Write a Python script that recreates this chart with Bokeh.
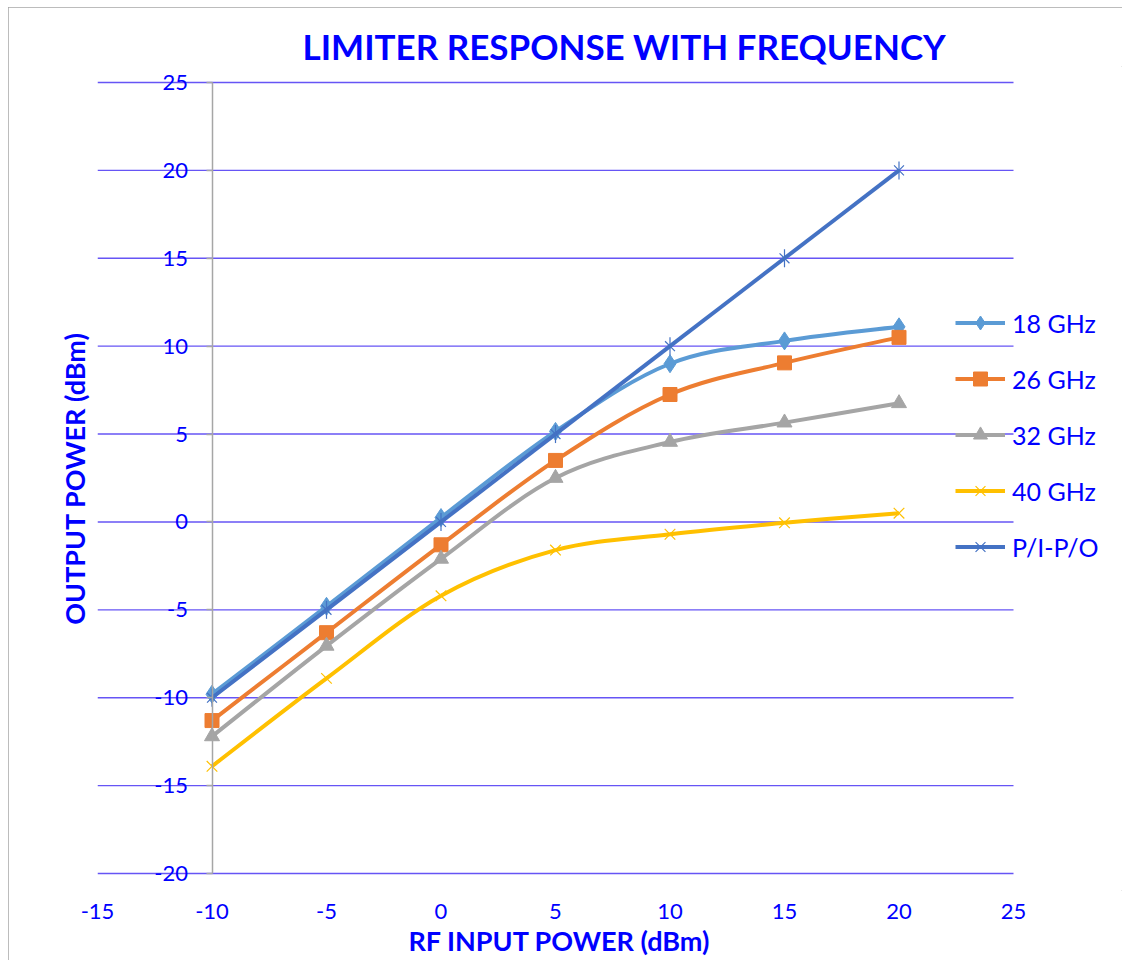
import numpy as np
from bokeh.plotting import figure
from bokeh.models import Range1d, FixedTicker, LinearAxis, Legend, LegendItem, Title
from bokeh.embed import file_html
from bokeh.resources import INLINE

# ---- data ----
x_vals = [-10, -5, 0, 5, 10, 15, 20]
ghz18 = [-9.8, -4.8, 0.25, 5.15, 9.0, 10.3, 11.1]
ghz26 = [-11.3, -6.3, -1.3, 3.5, 7.25, 9.05, 10.5]
ghz32 = [-12.2, -7.05, -2.1, 2.5, 4.55, 5.65, 6.75]
ghz40 = [-13.9, -8.9, -4.2, -1.6, -0.7, -0.05, 0.5]
pipo = [-10, -5, 0, 5, 10, 15, 20]
series_names = ["18 GHz", "26 GHz", "32 GHz", "40 GHz", "P/I-P/O"]
x_ticks = [-15, -10, -5, 0, 5, 10, 15, 20, 25]
y_ticks = [-20, -15, -10, -5, 0, 5, 10, 15, 20, 25]

BLUE = "#0000FF"
GRID = "#6655F5"
FONT = "Lato"

# ---- layout (pixels) ----
W, H = 1114, 953          # figure placed at page offset (8, 7)
FL, FT, FB = 89, 59, 883  # frame left / top / bottom in figure pixels
PX_X = 916.0 / 40.0       # pixels per x unit
PX_Y = 791.0 / 45.0       # pixels per y unit
TOP25 = 75                # figure pixel of y = 25
BOT20 = 866               # figure pixel of y = -20

x_lo = x_ticks[0]
x_hi = x_lo + (W - FL) / PX_X
y_hi = y_ticks[-1] + (TOP25 - FT) / PX_Y
y_lo = y_ticks[0] - (FB - BOT20) / PX_Y

p = figure(width=W, height=H, output_backend="svg", toolbar_location=None,
           x_range=Range1d(x_lo, x_hi), y_range=Range1d(y_lo, y_hi),
           min_border_left=FL, min_border_right=0, min_border_top=FT,
           min_border_bottom=H - FB)
p.outline_line_color = None
p.styles = {"margin-left": "8px", "margin-top": "7px",
            "outline": "1px solid #A6A6A6", "outline-offset": "-1px"}

# title
t = Title(text="LIMITER RESPONSE WITH FREQUENCY", align="left", offset=205, standoff=0,
          text_font=FONT, text_font_size="35px", text_font_style="bold", text_color=BLUE)
p.add_layout(t, "above")

# x axis
xa = p.xaxis[0]
xa.ticker = FixedTicker(ticks=x_ticks)
xa.major_label_overrides = {v: str(v) for v in x_ticks}
xa.axis_line_color = None
xa.major_tick_line_color = None
xa.minor_tick_line_color = None
xa.major_label_standoff = 7
xa.major_label_text_font = FONT
xa.major_label_text_font_size = "22px"
xa.major_label_text_color = BLUE

xtitle = Title(text="RF INPUT POWER (dBm)", align="left", offset=311, standoff=0,
               text_font=FONT, text_font_size="27px", text_font_style="bold", text_color=BLUE)
p.add_layout(xtitle, "below")

# y axis crossing at x = -10
ya = p.yaxis[0]
ya.ticker = FixedTicker(ticks=y_ticks)
ya.major_label_overrides = {v: str(v) for v in y_ticks}
ya.fixed_location = x_vals[0]
ya.bounds = (y_ticks[0], y_ticks[-1])
ya.axis_line_color = "#A6A6A6"
ya.axis_line_width = 1.5
ya.major_tick_line_color = "#A6A6A6"
ya.major_tick_line_width = 1.5
ya.major_tick_out = 6
ya.major_tick_in = 0
ya.minor_tick_line_color = None
ya.major_label_standoff = 18
ya.major_label_text_font = FONT
ya.major_label_text_font_size = "22px"
ya.major_label_text_color = BLUE

ylab = LinearAxis(ticker=FixedTicker(ticks=[]), axis_line_color=None,
                  major_tick_line_color=None, minor_tick_line_color=None,
                  major_label_text_font_size="0px",
                  axis_label="OUTPUT POWER (dBm)", axis_label_text_font=FONT,
                  axis_label_text_font_size="27px", axis_label_text_font_style="bold",
                  axis_label_text_color=BLUE, axis_label_standoff=7)
p.add_layout(ylab, "left")

# horizontal gridlines limited to the x axis extent
p.xgrid.grid_line_color = None
p.ygrid.grid_line_color = None
p.segment(x0=[x_ticks[0]] * len(y_ticks), x1=[x_ticks[-1]] * len(y_ticks),
          y0=y_ticks, y1=y_ticks, line_color=GRID, line_width=1.4, level="underlay")


def smooth(xs, ys):
    pts = np.column_stack([xs, ys]).astype(float)
    n = len(pts)
    segs = {k: [] for k in ("x0", "y0", "x1", "y1", "cx0", "cy0", "cx1", "cy1")}
    for i in range(n - 1):
        p0 = pts[max(i - 1, 0)]
        p1 = pts[i]
        p2 = pts[i + 1]
        p3 = pts[min(i + 2, n - 1)]
        c1 = p1 + (p2 - p0) / 6.0
        c2 = p2 - (p3 - p1) / 6.0
        segs["x0"].append(p1[0]); segs["y0"].append(p1[1])
        segs["x1"].append(p2[0]); segs["y1"].append(p2[1])
        segs["cx0"].append(c1[0]); segs["cy0"].append(c1[1])
        segs["cx1"].append(c2[0]); segs["cy1"].append(c2[1])
    return segs


series = [ghz18, ghz26, ghz32, ghz40, pipo]
colors = ["#5B9BD5", "#ED7D31", "#A5A5A5", "#FFC000", "#4472C4"]
items = []
for name, ys, col in zip(series_names, series, colors):
    s = smooth(x_vals, ys)
    r_line = p.bezier(x0=s["x0"], y0=s["y0"], x1=s["x1"], y1=s["y1"],
                      cx0=s["cx0"], cy0=s["cy0"], cx1=s["cx1"], cy1=s["cy1"],
                      line_color=col, line_width=4)
    rs = [r_line]
    if name == "18 GHz":
        rs.append(p.scatter(x_vals, ys, marker="diamond", size=18, fill_color=col, line_color=col))
    elif name == "26 GHz":
        rs.append(p.scatter(x_vals, ys, marker="square", size=14, fill_color=col, line_color=col))
    elif name == "32 GHz":
        rs.append(p.scatter(x_vals, ys, marker="triangle", size=15, fill_color=col, line_color=col))
    elif name == "40 GHz":
        rs.append(p.scatter(x_vals, ys, marker="x", size=15, line_color=col, line_width=1.2))
    else:
        rs.append(p.scatter(x_vals, ys, marker="x", size=14, line_color=col, line_width=1.2))
        rs.append(p.scatter(x_vals, ys, marker="dash", angle=np.pi / 2, size=18,
                            line_color=col, line_width=1.2))
    items.append(LegendItem(label=name, renderers=rs))

legend = Legend(items=items, location=(858, 326), orientation="vertical",
                glyph_width=50, glyph_height=35, label_height=35, label_standoff=7,
                label_text_font=FONT, label_text_font_size="25px", label_text_color=BLUE,
                spacing=21, padding=0, margin=0,
                border_line_color=None, background_fill_alpha=0)
p.add_layout(legend, "center")

open("out.html", "w").write(file_html(p, INLINE))
